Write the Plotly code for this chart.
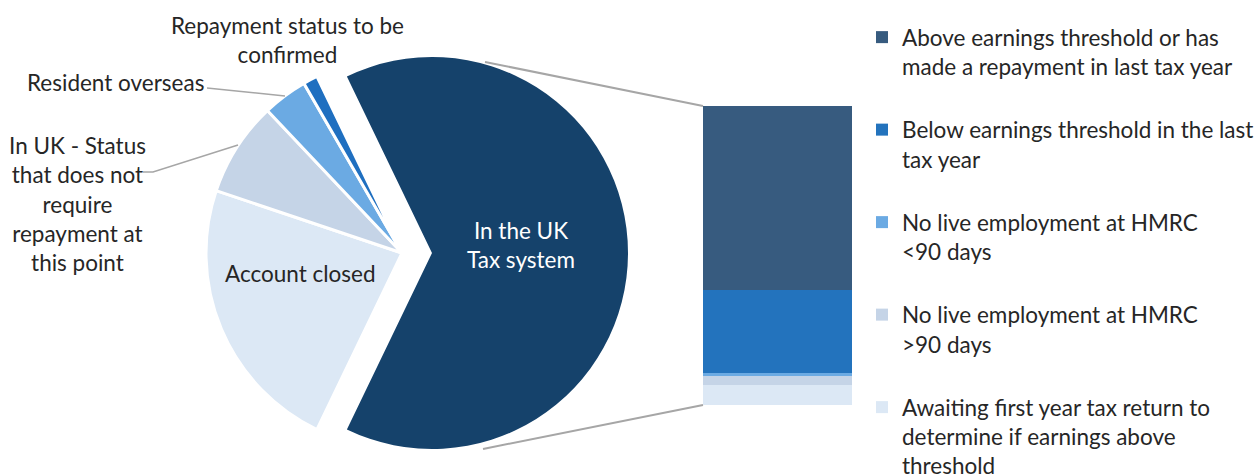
import plotly.graph_objects as go

# Student loan borrowers by repayment status (% of all borrowers)
pie_labels = [
    "In the UK Tax system",
    "Account closed",
    "In UK - Status that does not require repayment at this point",
    "Resident overseas",
    "Repayment status to be confirmed",
]
pie_colors = ["#15426B", "#DCE8F5", "#C5D4E7", "#6BAAE3", "#1F6FC0"]
other_values = [23.0, 7.8, 3.7, 1.2]

# Breakdown of borrowers in the UK tax system (same units), bottom to top
bar_labels = [
    "Awaiting first year tax return to<br>determine if earnings above<br>threshold",
    "No live employment at HMRC<br>>90 days",
    "No live employment at HMRC<br><90 days",
    "Below earnings threshold in the last<br>tax year",
    "Above earnings threshold or has<br>made a repayment in last tax year",
]
bar_values = [4.3, 1.9, 0.6, 17.9, 39.6]
bar_colors = ["#DCE8F5", "#C5D4E7", "#6BAAE3", "#2373BD", "#375B7F"]

uk_total = sum(bar_values)
pie_values = [uk_total] + other_values
total = sum(pie_values)

W, H = 1254, 474
FONT = "Lato"
FS = 22.5
TXT = "#262626"
GREY = "#A6A6A6"

# Pie geometry in pixels
cx, cy, r = 402, 253, 196
shift = 30                      # the UK slice is exploded to the right
rotation = 90 - 180 * uk_total / total   # centre the UK slice at 3 o'clock


def dom_x(c):
    return [(c - r) / W, (c + r) / W]


dom_y = [(H - cy - r) / H, (H - cy + r) / H]

fig = go.Figure()

# Base pie: every slice except the exploded one
fig.add_trace(go.Pie(
    labels=pie_labels, values=pie_values, sort=False, direction="clockwise",
    rotation=rotation, textinfo="none", showlegend=False,
    marker=dict(colors=["rgba(0,0,0,0)"] + pie_colors[1:],
                line=dict(color="white", width=[0, 3, 3, 3, 3])),
    domain=dict(x=dom_x(cx), y=dom_y),
))
# Exploded UK slice
fig.add_trace(go.Pie(
    labels=pie_labels, values=pie_values, sort=False, direction="clockwise",
    rotation=rotation, textinfo="none", showlegend=False,
    marker=dict(colors=[pie_colors[0]] + ["rgba(0,0,0,0)"] * 4,
                line=dict(color="white", width=0)),
    domain=dict(x=dom_x(cx + shift), y=dom_y),
))

# Stacked bar for the UK tax system breakdown (legend lists top segment first)
n = len(bar_labels)
for i, (lab, val, col) in enumerate(zip(bar_labels, bar_values, bar_colors)):
    fig.add_trace(go.Bar(
        x=[0], y=[val], name=lab, marker=dict(color=col, line=dict(width=0)),
        xaxis="x2", yaxis="y2", width=1, legendgroup=f"g{i}",
        legendrank=n - i,
    ))

bx0, bx1 = 703, 852
by0, by1 = 106, 405

annotations = [
    dict(x=521 / W, y=1 - 245 / H, text="In the UK<br>Tax system",
         font=dict(color="white")),
    dict(x=300 / W, y=1 - 273 / H, text="Account closed"),
    dict(x=287 / W, y=1 - 40 / H, text="Repayment status to be<br>confirmed"),
    dict(x=115 / W, y=1 - 82 / H, text="Resident overseas"),
    dict(x=77 / W, y=1 - 204 / H,
         text="In UK - Status<br>that does not<br>require<br>repayment at<br>this point"),
]
for a in annotations:
    f = dict(color=TXT, size=FS, family=FONT)
    f.update(a.get("font", {}))
    a.update(xref="paper", yref="paper", showarrow=False, align="center",
             xanchor="center", yanchor="middle", font=f)


def px_path(points):
    return "M " + " L ".join(f"{x / W},{1 - y / H}" for x, y in points)


shapes = [
    # connectors from the exploded slice to the bar
    dict(type="path", path=px_path([(485, 62), (bx0, by0)]), width=2),
    dict(type="path", path=px_path([(483, 449), (bx0, by1)]), width=2),
    # leader lines
    dict(type="path", path=px_path([(207, 88), (285, 96)]), width=1.5),
    dict(type="path", path=px_path([(143, 172), (153, 172), (238, 145)]), width=1.5),
]
for s in shapes:
    w = s.pop("width")
    s.update(xref="paper", yref="paper", line=dict(color=GREY, width=w))

fig.update_layout(
    width=W, height=H,
    margin=dict(l=0, r=0, t=0, b=0, autoexpand=False),
    paper_bgcolor="white", plot_bgcolor="white",
    barmode="stack", bargap=0,
    xaxis2=dict(domain=[bx0 / W, bx1 / W], range=[-0.5, 0.5], visible=False,
                fixedrange=True),
    yaxis2=dict(domain=[1 - by1 / H, 1 - by0 / H], range=[0, uk_total],
                visible=False, fixedrange=True, anchor="x2"),
    xaxis=dict(visible=False), yaxis=dict(visible=False),
    legend=dict(x=862 / W, xanchor="left", y=1 - 16 / H, yanchor="top",
                traceorder="grouped", tracegroupgap=31,
                valign="top", font=dict(family=FONT, size=FS, color=TXT),
                bgcolor="rgba(0,0,0,0)"),
    annotations=annotations, shapes=shapes,
    font=dict(family=FONT),
)

fig.write_html("out.html")
